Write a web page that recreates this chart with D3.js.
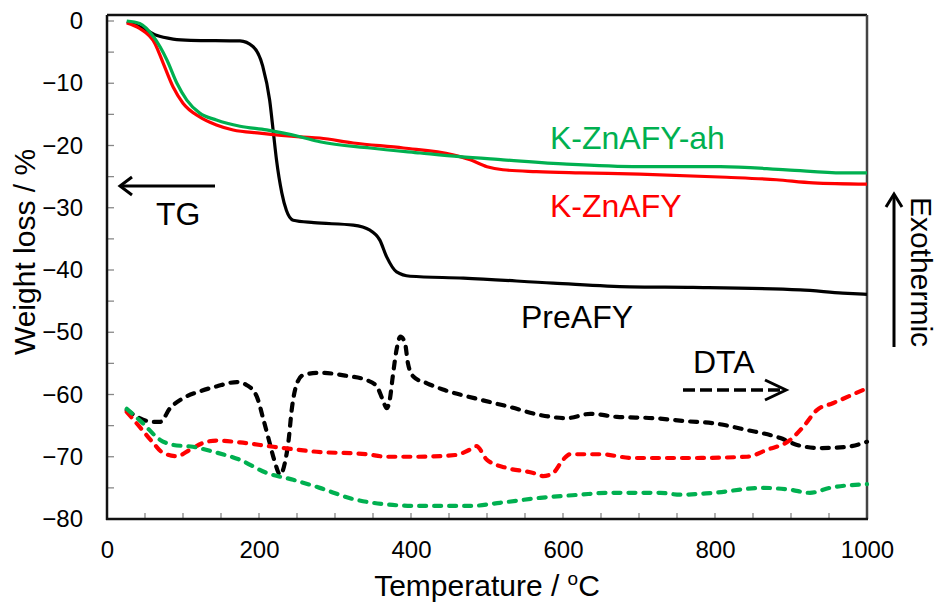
<!DOCTYPE html>
<html>
<head>
<meta charset="utf-8">
<script src="https://cdn.jsdelivr.net/npm/d3@7"></script>
<style>
  body { margin: 0; background: #fff; }
  svg { font-family: Arial, "Liberation Sans", sans-serif; }
</style>
</head>
<body>
<script>
// TG curves: [temperature, weight loss]
var preTG = [[26,-0.1],[45,-1],[65,-2.3],[87,-2.9],[110,-3.1],[175,-3.2],[192,-4.1],[205,-7.3],[214,-12.7],[219,-18],[223,-22.3],[230,-27.6],[236,-30.4],[245,-32],[272,-32.4],[324,-32.8],[346,-33.6],[359,-35.2],[368,-37.9],[381,-40.3],[399,-41],[469,-41.3],[587,-42.1],[688,-42.7],[771,-42.8],[912,-43.2],[968,-43.7],[1000,-43.9]];
var redTG = [[26,-0.3],[43,-1.2],[63,-3.6],[74,-6.8],[87,-10.6],[100,-13.2],[122,-15.4],[144,-16.7],[166,-17.5],[201,-18],[254,-18.6],[280,-18.8],[324,-19.6],[390,-20.4],[455,-21.5],[478,-22.3],[500,-23.4],[521,-23.9],[565,-24.2],[622,-24.4],[701,-24.6],[815,-25.1],[881,-25.5],[929,-26],[1000,-26.2]];
var greenTG = [[26,0],[43,-0.4],[61,-2.5],[79,-6.3],[92,-10],[105,-12.7],[122,-14.8],[144,-15.9],[175,-16.9],[210,-17.5],[254,-18.6],[280,-19.4],[346,-20.4],[412,-21.2],[464,-21.8],[521,-22.3],[605,-23],[701,-23.4],[807,-23.4],[894,-23.9],[968,-24.4],[1000,-24.4]];

// DTA curves (plotted on the same axis)
var preDTA = [[26,-62.5],[43,-63.8],[61,-64.4],[70,-64.4],[83,-62.2],[100,-60.6],[122,-59.5],[144,-58.7],[171,-58],[184,-58.5],[197,-60.3],[206,-64.1],[213,-67.3],[220,-70.5],[228,-72.9],[234,-71],[239,-67.3],[243,-62.5],[250,-58.2],[258,-56.9],[280,-56.5],[315,-57],[342,-57.7],[355,-58.7],[363,-60.9],[368,-62.2],[372,-60.9],[376,-57.1],[381,-52.8],[386,-50.7],[392,-51.7],[396,-55],[403,-57.1],[421,-58.2],[442,-59.2],[487,-60.7],[530,-62],[570,-63.3],[605,-63.8],[636,-63.1],[671,-63.6],[719,-63.8],[763,-64.3],[797,-64.6],[842,-65.7],[886,-67],[908,-68.1],[938,-68.6],[974,-68.4],[1000,-67.6]];
var redDTA = [[26,-62.8],[43,-65.2],[61,-67.8],[74,-69.4],[92,-69.9],[109,-68.9],[126,-67.8],[144,-67.4],[175,-67.7],[219,-68.4],[276,-69.2],[342,-69.6],[368,-70],[408,-70],[460,-69.7],[475,-69],[486,-68.3],[500,-70.5],[526,-71.8],[561,-72.6],[574,-73.1],[587,-72.6],[600,-70.5],[609,-69.6],[649,-69.6],[692,-70.2],[771,-70.2],[842,-70],[868,-68.9],[899,-67.3],[916,-65.2],[934,-62.5],[955,-61.4],[1000,-59]];
var greenDTA = [[26,-62.3],[47,-64.6],[70,-67.3],[87,-68.1],[113,-68.4],[140,-69.2],[175,-70.5],[210,-72.6],[245,-73.7],[280,-75],[324,-76.8],[363,-77.6],[408,-77.9],[478,-77.9],[517,-77.4],[570,-76.6],[622,-76.1],[658,-75.8],[728,-75.8],[754,-76.1],[797,-75.8],[863,-75],[899,-75.3],[925,-75.8],[951,-75],[1000,-74.4]];

var xTickLabels = [0, 200, 400, 600, 800, 1000];
var yTickLabels = [0, -10, -20, -30, -40, -50, -60, -70, -80];

var width = 939, height = 606;
var margin = {left: 107, top: 15, right: 72, bottom: 87};
var w = width - margin.left - margin.right;
var h = height - margin.top - margin.bottom;

var svg = d3.select("body").append("svg").attr("width", width).attr("height", height);
var g = svg.append("g").attr("transform", "translate(" + margin.left + "," + margin.top + ")");

var x = d3.scaleLinear().domain([0, 1000]).range([0, w]);
var y = d3.scaleLinear().domain([-80, 0]).range([h, 6]);

// small tick marks pointing inward
g.selectAll(".xt").data(d3.range(50, 1000, 50)).enter().append("line")
  .attr("x1", d => x(d)).attr("x2", d => x(d)).attr("y1", h).attr("y2", h - 6)
  .attr("stroke", "#888").attr("stroke-width", 1.3);
g.selectAll(".yt").data(d3.range(-75, 1, 5)).enter().append("line")
  .attr("x1", 0).attr("x2", 7).attr("y1", d => y(d)).attr("y2", d => y(d))
  .attr("stroke", "#888").attr("stroke-width", 1.3);

// frame
g.append("line").attr("x1", 0).attr("x2", w).attr("y1", 0).attr("y2", 0).attr("stroke", "#111").attr("stroke-width", 2.5);
g.append("line").attr("x1", w).attr("x2", w).attr("y1", 0).attr("y2", h).attr("stroke", "#444").attr("stroke-width", 2.5);
g.append("line").attr("x1", 0).attr("x2", 0).attr("y1", 0).attr("y2", h + 1).attr("stroke", "#111").attr("stroke-width", 2.5);
g.append("line").attr("x1", -1).attr("x2", w + 1).attr("y1", h).attr("y2", h).attr("stroke", "#111").attr("stroke-width", 2.5);

// tick labels
var xAxis = d3.axisBottom(x).tickValues(xTickLabels).tickFormat(d3.format("d")).tickSize(0).tickPadding(22);
g.append("g").attr("transform", "translate(0," + h + ")").call(xAxis)
  .call(a => a.select(".domain").remove())
  .selectAll("text").attr("font-size", 24).attr("fill", "#000").attr("font-family", "Arial, 'Liberation Sans', sans-serif");
var yAxis = d3.axisLeft(y).tickValues(yTickLabels).tickSize(0).tickPadding(24);
g.append("g").call(yAxis)
  .call(a => a.select(".domain").remove())
  .selectAll("text").attr("font-size", 24).attr("fill", "#000").attr("font-family", "Arial, 'Liberation Sans', sans-serif");

// curves
var line = d3.line().x(d => x(d[0])).y(d => y(d[1])).curve(d3.curveMonotoneX);
var tg = [[preTG, "#000000"], [redTG, "#FF0000"], [greenTG, "#00B050"]];
tg.forEach(function(s) {
  g.append("path").datum(s[0]).attr("d", line).attr("fill", "none")
    .attr("stroke", s[1]).attr("stroke-width", 3.2).attr("stroke-linejoin", "round");
});
var dta = [[preDTA, "#000000"], [redDTA, "#FF0000"], [greenDTA, "#00B050"]];
dta.forEach(function(s) {
  g.append("path").datum(s[0]).attr("d", line).attr("fill", "none")
    .attr("stroke", s[1]).attr("stroke-width", 4.2).attr("stroke-dasharray", "7,8")
    .attr("stroke-linecap", "round").attr("stroke-linejoin", "round");
});

// axis titles
svg.append("text").attr("x", 487).attr("y", 596).attr("text-anchor", "middle")
  .attr("font-size", 30).html('Temperature / <tspan font-size="19" dy="-11">o</tspan><tspan dy="11">C</tspan>');
svg.append("text").attr("transform", "translate(35,252) rotate(-90)").attr("text-anchor", "middle")
  .attr("font-size", 30).text("Weight loss / %");

// annotations
svg.append("text").attr("x", 550).attr("y", 149).attr("font-size", 32).attr("fill", "#00B050").text("K-ZnAFY-ah");
svg.append("text").attr("x", 550).attr("y", 217).attr("font-size", 32).attr("fill", "#FF0000").text("K-ZnAFY");
svg.append("text").attr("x", 521).attr("y", 328).attr("font-size", 32).attr("fill", "#000").text("PreAFY");
svg.append("text").attr("x", 693).attr("y", 373).attr("font-size", 32).attr("fill", "#000").text("DTA");
svg.append("text").attr("x", 156).attr("y", 225).attr("font-size", 32).attr("fill", "#000").text("TG");
svg.append("text").attr("transform", "translate(911,197) rotate(90)").attr("font-size", 30).attr("fill", "#000").text("Exothermic");

// arrows
svg.append("line").attr("x1", 215).attr("x2", 121).attr("y1", 186).attr("y2", 186).attr("stroke", "#000").attr("stroke-width", 3);
svg.append("path").attr("d", "M132,177 L120,186 L132,195").attr("fill", "none").attr("stroke", "#000").attr("stroke-width", 3);
svg.append("line").attr("x1", 683).attr("x2", 785).attr("y1", 390).attr("y2", 390).attr("stroke", "#000").attr("stroke-width", 3.5).attr("stroke-dasharray", "12,5");
svg.append("path").attr("d", "M765,380 L786,390 L765,400").attr("fill", "none").attr("stroke", "#000").attr("stroke-width", 3);
svg.append("line").attr("x1", 894).attr("x2", 894).attr("y1", 347).attr("y2", 195).attr("stroke", "#000").attr("stroke-width", 3);
svg.append("path").attr("d", "M886,207 L894,194 L902,207").attr("fill", "none").attr("stroke", "#000").attr("stroke-width", 3);
</script>
</body>
</html>
